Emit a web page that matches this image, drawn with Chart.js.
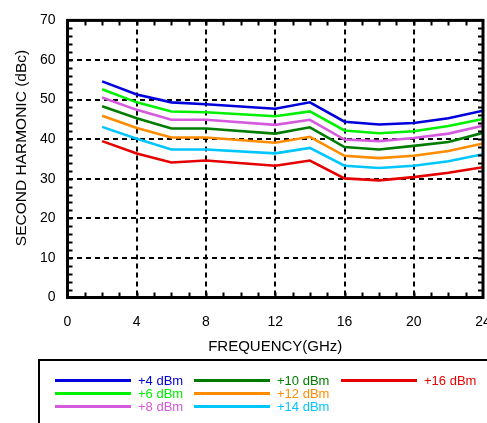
<!DOCTYPE html>
<html>
<head>
<meta charset="utf-8">
<script src="https://cdn.jsdelivr.net/npm/chart.js@4.4.1/dist/chart.umd.min.js"></script>
<style>
  html, body { margin: 0; padding: 0; background: #fff; }
  #wrap { position: relative; width: 487px; height: 423px; overflow: hidden; font-family: "Liberation Sans", Arial, Helvetica, sans-serif; }
  #c { position: absolute; left: 0; top: 0; }
  #legendBox { position: absolute; left: 38px; top: 359px; width: 460px; height: 70px; border-top: 2px solid #000; border-left: 2px solid #000; }
  .lg-item { position: absolute; height: 14px; white-space: nowrap; font-size: 13px; line-height: 14px; }
  .lg-line { position: absolute; left: 0; top: 5px; width: 76px; height: 3px; }
  .lg-text { position: absolute; left: 83px; top: 0; }
</style>
</head>
<body>
<div id="wrap">
  <canvas id="c" width="487" height="423"></canvas>
  <div id="legendBox"></div>
</div>
<script>
// ---- data ----
const freqGHz = [2, 4, 6, 8, 12, 14, 16, 18, 20, 22, 24];
const seriesLabels = ['+4 dBm', '+6 dBm', '+8 dBm', '+10 dBm', '+12 dBm', '+14 dBm', '+16 dBm'];
const seriesColors = ['#0000dc', '#00f000', '#d65ade', '#007d00', '#ff8c00', '#00c6ff', '#e60000'];
const dBm4  = [54.6, 51.3, 49.3, 48.8, 47.7, 49.3, 44.4, 43.7, 44.1, 45.3, 47.2];
const dBm6  = [52.6, 49.3, 47.0, 46.8, 45.8, 47.0, 42.2, 41.5, 42.0, 43.3, 45.1];
const dBm8  = [50.5, 47.4, 44.9, 44.9, 43.6, 44.9, 39.9, 39.5, 40.3, 41.4, 43.4];
const dBm10 = [48.3, 45.3, 42.7, 42.7, 41.4, 43.0, 38.0, 37.4, 38.3, 39.3, 41.6];
const dBm12 = [45.9, 42.8, 40.4, 40.4, 39.1, 40.6, 35.8, 35.2, 35.8, 37.0, 38.9];
const dBm14 = [43.1, 40.1, 37.4, 37.4, 36.4, 37.8, 33.3, 32.7, 33.3, 34.4, 36.2];
const dBm16 = [39.5, 36.4, 34.1, 34.6, 33.3, 34.6, 30.1, 29.6, 30.4, 31.5, 32.9];
const seriesValues = [dBm4, dBm6, dBm8, dBm10, dBm12, dBm14, dBm16];
const xTitle = 'FREQUENCY(GHz)';
const yTitle = 'SECOND HARMONIC (dBc)';
const xRange = [0, 24];
const yRange = [0, 70];

const FONT = '"Liberation Sans", Arial, Helvetica, sans-serif';

const datasets = seriesValues.map((vals, i) => ({
  label: seriesLabels[i],
  data: vals.map((v, j) => ({ x: freqGHz[j], y: v })),
  borderColor: seriesColors[i],
  backgroundColor: seriesColors[i],
  borderWidth: 2.6,
  pointRadius: 0,
  tension: 0,
  fill: false
}));

const framePlugin = {
  id: 'frame',
  afterDatasetsDraw(chart) {
    const { ctx, chartArea: a, scales: { x, y } } = chart;
    ctx.save();
    ctx.strokeStyle = '#000';
    ctx.lineWidth = 2;
    ctx.setLineDash([]);
    ctx.beginPath();
    for (let v = xRange[0] + 1; v < xRange[1]; v++) {
      const px = Math.round(x.getPixelForValue(v)) + 0.5;
      ctx.moveTo(px, a.bottom); ctx.lineTo(px, a.bottom - 5);
      ctx.moveTo(px, a.top); ctx.lineTo(px, a.top + 5);
    }
    for (let v = yRange[0] + 2; v < yRange[1]; v += 2) {
      const py = Math.round(y.getPixelForValue(v)) + 0.5;
      ctx.moveTo(a.left, py); ctx.lineTo(a.left + 5, py);
      ctx.moveTo(a.right, py); ctx.lineTo(a.right - 5, py);
    }
    ctx.stroke();
    ctx.lineWidth = 3;
    ctx.strokeRect(a.left, a.top, a.right - a.left, a.bottom - a.top);
    // y-axis title
    ctx.fillStyle = '#000';
    ctx.font = '15.5px ' + FONT;
    ctx.textAlign = 'center';
    ctx.textBaseline = 'middle';
    ctx.translate(22, 148);
    ctx.rotate(-Math.PI / 2);
    ctx.fillText(yTitle, 0, 0);
    ctx.restore();
  }
};

const chart = new Chart(document.getElementById('c'), {
  type: 'line',
  data: { datasets },
  options: {
    responsive: false,
    animation: false,
    events: [],
    layout: { padding: { top: 16.5, right: 4, bottom: 63, left: 0 } },
    plugins: { legend: { display: false }, tooltip: { enabled: false } },
    scales: {
      x: {
        type: 'linear',
        min: xRange[0], max: xRange[1],
        ticks: { stepSize: 4, color: '#000', font: { family: FONT, size: 14 }, padding: 16, maxRotation: 0 },
        grid: { color: '#000', lineWidth: 2, drawTicks: false },
        border: { display: false, dash: [5, 4] },
        title: { display: true, text: xTitle, color: '#000', font: { family: FONT, size: 15 }, padding: { top: 0, bottom: 4 } },
        afterFit(s) { s.height = 62.5; s.paddingLeft = 0; s.paddingRight = 0; }
      },
      y: {
        type: 'linear',
        min: yRange[0], max: yRange[1],
        ticks: { stepSize: 10, color: '#000', font: { family: FONT, size: 14 }, padding: 12 },
        grid: { color: '#000', lineWidth: 2, drawTicks: false },
        border: { display: false, dash: [5, 4] },
        afterFit(s) { s.width = 67.5; }
      }
    }
  },
  plugins: [framePlugin]
});

// HTML legend built from the series arrays
const legendBox = document.getElementById('legendBox');
const colLeft = [55, 194, 341];
const rowTop = [381, 394, 407];
seriesLabels.forEach((lab, i) => {
  const col = Math.floor(i / 3), row = i % 3;
  const item = document.createElement('div');
  item.className = 'lg-item';
  item.style.left = (colLeft[col] - 40) + 'px';
  item.style.top = (rowTop[row] - 7 - 361) + 'px';
  const ln = document.createElement('span');
  ln.className = 'lg-line';
  ln.style.background = seriesColors[i];
  const tx = document.createElement('span');
  tx.className = 'lg-text';
  tx.style.color = seriesColors[i];
  tx.textContent = lab;
  item.appendChild(ln); item.appendChild(tx);
  legendBox.appendChild(item);
});
</script>
</body>
</html>
